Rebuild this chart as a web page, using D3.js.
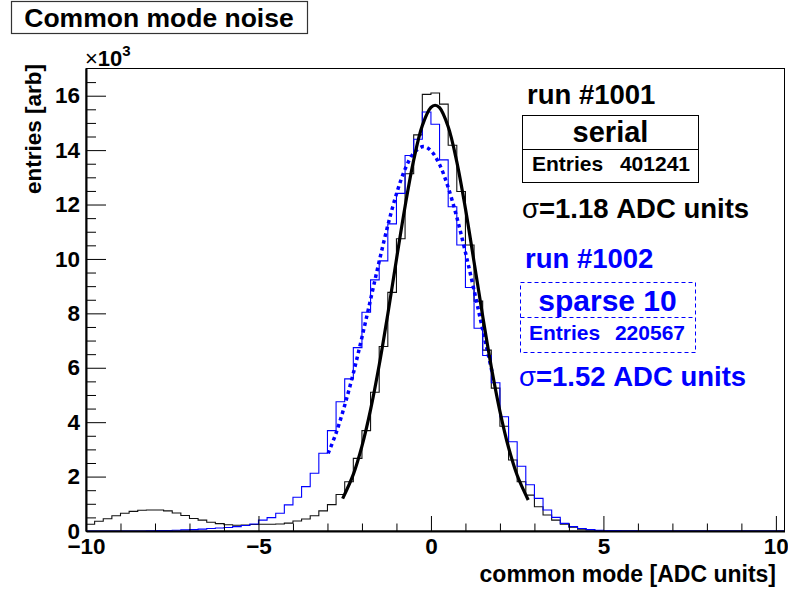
<!DOCTYPE html>
<html>
<head>
<meta charset="utf-8">
<script src="https://cdn.jsdelivr.net/npm/d3@7"></script>
<style>
    body { margin: 0; background: #fff; }
    svg text { font-family: "Liberation Sans", Arial, Helvetica, sans-serif; font-weight: bold; }
</style>
</head>
<body>
<div id="chart"></div>
<script>
// histogram binning, ADC units
const binStart = -10;
const binWidth = 0.25;

// run #1001 (serial), entries per bin in units of 10^3
const serialCounts = [
    0.25, 0.36, 0.45, 0.56, 0.65, 0.72, 0.76, 0.77, 0.77, 0.74,
    0.66, 0.57, 0.46, 0.40, 0.32, 0.27, 0.23, 0.21, 0.22, 0.24,
    0.25, 0.25, 0.26, 0.29, 0.37, 0.44, 0.56, 0.74, 0.97, 1.34,
    1.81, 2.67, 3.69, 5.10, 6.78, 8.77, 10.74, 13.13, 14.56, 16.05,
    16.10, 15.69, 14.18, 12.48, 10.51, 8.45, 6.65, 5.25, 3.85, 2.61,
    1.81, 1.32, 0.89, 0.59, 0.40, 0.25, 0.14, 0.07, 0.04, 0.02,
    0.01, 0.005, 0, 0, 0, 0, 0, 0, 0, 0,
    0, 0, 0, 0, 0, 0, 0, 0, 0, 0, 0
];

// run #1002 (sparse 10)
const sparseCounts = [
    0, 0, 0, 0, 0, 0, 0, 0.01, 0.02, 0.02,
    0.03, 0.04, 0.05, 0.07, 0.09, 0.11, 0.13, 0.16, 0.20, 0.26,
    0.40, 0.49, 0.65, 0.96, 1.24, 1.63, 2.12, 2.86, 3.69, 4.75,
    5.59, 6.74, 8.04, 9.23, 9.93, 11.29, 12.41, 13.80, 14.40, 15.40,
    14.95, 13.64, 11.92, 10.51, 8.95, 7.45, 6.45, 5.45, 4.20, 3.28,
    2.38, 1.70, 1.20, 0.77, 0.50, 0.28, 0.16, 0.09, 0.05, 0.03,
    0.02, 0.015, 0.01, 0.005, 0, 0, 0, 0, 0, 0,
    0, 0, 0, 0, 0, 0, 0, 0, 0, 0, 0
];

// gaussian fits as drawn [x, entries 10^3]
const serialFit = [
    [-2.56, 1.19], [-2.25, 2.08], [-2.0, 3.12], [-1.75, 4.46], [-1.5, 6.10],
    [-1.25, 7.98], [-1.0, 9.98], [-0.75, 11.93], [-0.5, 13.63], [-0.25, 14.90],
    [0.0, 15.57], [0.12, 15.65], [0.25, 15.56], [0.5, 14.86], [0.75, 13.57],
    [1.0, 11.85], [1.25, 9.89], [1.5, 7.90], [1.75, 6.03], [2.0, 4.40],
    [2.25, 3.07], [2.5, 2.05], [2.82, 1.14]
];
const sparseFit = [
    [-2.98, 2.85], [-2.75, 3.60], [-2.5, 4.62], [-2.25, 5.80], [-2.0, 7.12],
    [-1.75, 8.51], [-1.5, 9.91], [-1.25, 11.23], [-1.0, 12.39], [-0.75, 13.30],
    [-0.5, 13.89], [-0.22, 14.13], [0.0, 13.98], [0.25, 13.47], [0.5, 12.63],
    [0.75, 11.53], [1.0, 10.24], [1.25, 8.85], [1.5, 7.40], [1.78, 5.80]
];

const xMajorTicks = [-10, -5, 0, 5, 10];
const xMinorTicks = [-9, -8, -7, -6, -4, -3, -2, -1, 1, 2, 3, 4, 6, 7, 8, 9];
const yMajorTicks = [0, 2, 4, 6, 8, 10, 12, 14, 16];
const yMinorTicks = [0.5, 1, 1.5, 2.5, 3, 3.5, 4.5, 5, 5.5, 6.5, 7, 7.5, 8.5, 9, 9.5,
    10.5, 11, 11.5, 12.5, 13, 13.5, 14.5, 15, 15.5, 16.5];

const blue = '#0000ff';

drawChart();

function drawChart() {
    const width = 788, height = 589;
    const frame = { left: 86, right: 784.5, top: 68.5, bottom: 531 };

    const svg = d3.select('#chart')
        .append('svg')
        .attr('width', width)
        .attr('height', height);

    const x = d3.scaleLinear().domain([-10, 10.25]).range([frame.left, frame.right]);
    const y = d3.scaleLinear().domain([0, 17]).range([frame.bottom, frame.top]);

    // title box
    svg.append('rect')
        .attr('x', 11.5).attr('y', 1.5).attr('width', 296).attr('height', 32)
        .attr('fill', '#fff').attr('stroke', '#333').attr('stroke-width', 1.2);
    svg.append('text')
        .attr('x', 159).attr('y', 26.5)
        .attr('text-anchor', 'middle')
        .style('font-size', '26.5px')
        .text('Common mode noise');

    // frame
    svg.append('rect')
        .attr('x', frame.left).attr('y', frame.top)
        .attr('width', frame.right - frame.left).attr('height', frame.bottom - frame.top)
        .attr('fill', 'none').attr('stroke', '#000').attr('stroke-width', 1);

    svg.append('clipPath').attr('id', 'clip')
        .append('rect')
        .attr('x', frame.left).attr('y', frame.top)
        .attr('width', frame.right - frame.left).attr('height', frame.bottom - frame.top);

    const plot = svg.append('g').attr('clip-path', 'url(#clip)');

    // histograms as steps
    const histLine = d3.line()
        .x(d => x(d[0]))
        .y(d => y(d[1]))
        .curve(d3.curveStepAfter);

    function histPoints(counts) {
        const pts = counts.map((c, i) => [binStart + i * binWidth, c]);
        pts.push([binStart + counts.length * binWidth, counts[counts.length - 1]]);
        return pts;
    }

    plot.append('path')
        .attr('d', histLine(histPoints(serialCounts)))
        .attr('fill', 'none').attr('stroke', '#111').attr('stroke-width', 1.1);

    plot.append('path')
        .attr('d', histLine(histPoints(sparseCounts)))
        .attr('fill', 'none').attr('stroke', blue).attr('stroke-width', 1.1);

    // fits
    const fitLine = d3.line()
        .x(d => x(d[0]))
        .y(d => y(d[1]))
        .curve(d3.curveCatmullRom);

    plot.append('path')
        .attr('d', fitLine(sparseFit))
        .attr('fill', 'none').attr('stroke', blue)
        .attr('stroke-width', 3.5).attr('stroke-dasharray', '3.5 3.5');

    plot.append('path')
        .attr('d', fitLine(serialFit))
        .attr('fill', 'none').attr('stroke', '#000').attr('stroke-width', 3.2);

    // x axis, ticks pointing inward
    svg.append('g')
        .attr('transform', `translate(0,${frame.bottom})`)
        .call(d3.axisBottom(x).tickValues(xMajorTicks).tickSize(-15).tickSizeOuter(0).tickPadding(7)
            .tickFormat(d3.format('d')));
    svg.append('g')
        .attr('transform', `translate(0,${frame.bottom})`)
        .call(d3.axisBottom(x).tickValues(xMinorTicks).tickSize(-7.5).tickSizeOuter(0).tickFormat(''))
        .call(g => g.select('.domain').remove());

    // y axis
    svg.append('g')
        .attr('transform', `translate(${frame.left},0)`)
        .call(d3.axisLeft(y).tickValues(yMajorTicks).tickSize(-20).tickSizeOuter(0).tickPadding(6)
            .tickFormat(d3.format('d')));
    svg.append('g')
        .attr('transform', `translate(${frame.left},0)`)
        .call(d3.axisLeft(y).tickValues(yMinorTicks).tickSize(-10).tickSizeOuter(0).tickFormat(''))
        .call(g => g.select('.domain').remove());

    svg.selectAll('.domain').attr('stroke', '#000').attr('stroke-width', 2);
    svg.selectAll('.tick line').attr('stroke', '#000').attr('stroke-width', 1);
    svg.selectAll('.tick text')
        .attr('fill', '#000')
        .style('font-family', '"Liberation Sans", Arial, sans-serif')
        .style('font-weight', 'bold')
        .style('font-size', '22.5px');

    // axis titles
    svg.append('text')
        .attr('x', 776).attr('y', 582)
        .attr('text-anchor', 'end')
        .style('font-size', '23px')
        .text('common mode [ADC units]');

    svg.append('text')
        .attr('transform', 'translate(41,64) rotate(-90)')
        .attr('text-anchor', 'end')
        .style('font-size', '22.5px')
        .text('entries [arb]');

    const expo = svg.append('text').attr('x', 85).attr('y', 66).style('font-size', '22px');
    expo.append('tspan').style('font-weight', 'normal').text('\u00d7');
    expo.append('tspan').text('10');
    expo.append('tspan').attr('dy', -10).style('font-size', '15px').text('3');

    drawLegend(svg);
}

function drawLegend(svg) {
    // run #1001
    svg.append('text').attr('x', 527).attr('y', 104)
        .style('font-size', '27.5px').text('run #1001');
    svg.append('rect')
        .attr('x', 522.5).attr('y', 115.5).attr('width', 176).attr('height', 67)
        .attr('fill', '#fff').attr('stroke', '#000').attr('stroke-width', 1);
    svg.append('line')
        .attr('x1', 522.5).attr('x2', 698.5).attr('y1', 149.5).attr('y2', 149.5)
        .attr('stroke', '#000').attr('stroke-width', 1);
    svg.append('text').attr('x', 610.5).attr('y', 142)
        .attr('text-anchor', 'middle').style('font-size', '29px').text('serial');
    svg.append('text').attr('x', 532).attr('y', 171)
        .style('font-size', '21px').text('Entries');
    svg.append('text').attr('x', 690).attr('y', 171)
        .attr('text-anchor', 'end').style('font-size', '21px').text('401241');
    const s1 = svg.append('text').attr('x', 522).attr('y', 218).style('font-size', '27.5px');
    s1.append('tspan').style('font-weight', 'normal').text('\u03c3');
    s1.append('tspan').text('=1.18 ADC units');

    // run #1002
    svg.append('text').attr('x', 525).attr('y', 268)
        .attr('fill', blue).style('font-size', '27.5px').text('run #1002');
    svg.append('rect')
        .attr('x', 520.5).attr('y', 282.5).attr('width', 175).attr('height', 70)
        .attr('fill', '#fff').attr('stroke', blue).attr('stroke-width', 1)
        .attr('stroke-dasharray', '4 3');
    svg.append('line')
        .attr('x1', 520.5).attr('x2', 695.5).attr('y1', 317.5).attr('y2', 317.5)
        .attr('stroke', blue).attr('stroke-width', 1).attr('stroke-dasharray', '4 3');
    svg.append('text').attr('x', 607.5).attr('y', 311)
        .attr('fill', blue).attr('text-anchor', 'middle').style('font-size', '30px').text('sparse 10');
    svg.append('text').attr('x', 529).attr('y', 340)
        .attr('fill', blue).style('font-size', '21px').text('Entries');
    svg.append('text').attr('x', 685).attr('y', 340)
        .attr('fill', blue).attr('text-anchor', 'end').style('font-size', '21px').text('220567');
    const s2 = svg.append('text').attr('x', 519).attr('y', 386)
        .attr('fill', blue).style('font-size', '27.5px');
    s2.append('tspan').style('font-weight', 'normal').text('\u03c3');
    s2.append('tspan').text('=1.52 ADC units');
}
</script>
</body>
</html>
